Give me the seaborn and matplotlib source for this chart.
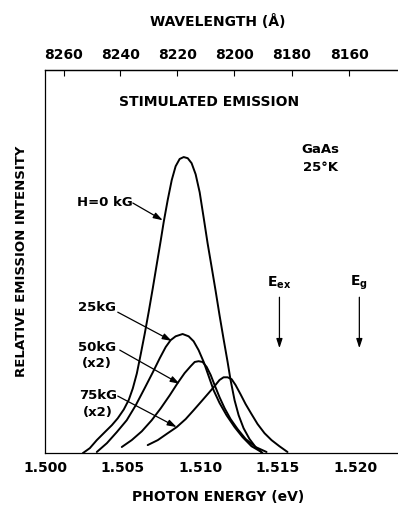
import numpy as np
import pandas as pd
import matplotlib
matplotlib.use("Agg")
import matplotlib.pyplot as plt
import seaborn as sns

# curves: photon energy (eV) vs relative intensity
e_0kg = [1.50244, 1.50289, 1.50334, 1.50386, 1.50431, 1.50469, 1.50508, 1.50540,
         1.50566, 1.50592, 1.50617, 1.50643, 1.50669, 1.50695, 1.50720, 1.50746,
         1.50765, 1.50791, 1.50817, 1.50842, 1.50868, 1.50894, 1.50920, 1.50945,
         1.50971, 1.50997, 1.51023, 1.51048, 1.51074, 1.51100, 1.51125, 1.51151,
         1.51177, 1.51196, 1.51222, 1.51248, 1.51280, 1.51318, 1.51357, 1.51402]
i_0kg = [0.0, 1.3, 3.4, 5.5, 7.3, 9.1, 11.4, 13.9,
         16.9, 20.8, 25.8, 31.2, 37.0, 43.1, 49.2, 55.5,
         60.3, 66.1, 71.3, 74.9, 76.8, 77.3, 77.0, 75.7,
         72.8, 68.1, 61.4, 54.8, 48.6, 42.3, 36.0, 29.8,
         23.8, 19.1, 13.8, 9.9, 6.5, 3.7, 1.6, 0.0]

e_25kg = [1.50334, 1.50399, 1.50463, 1.50527, 1.50585, 1.50643, 1.50695, 1.50740,
          1.50778, 1.50810, 1.50842, 1.50887, 1.50926, 1.50958, 1.50990, 1.51023,
          1.51055, 1.51087, 1.51125, 1.51170, 1.51222, 1.51273, 1.51331, 1.51395]
i_25kg = [0.3, 2.6, 5.5, 8.6, 12.5, 17.0, 21.1, 24.8,
          27.7, 29.5, 30.5, 31.1, 30.5, 29.2, 26.9, 23.8,
          20.1, 16.4, 13.1, 9.9, 6.8, 4.2, 1.8, 0.3]

e_50kg = [1.50495, 1.50559, 1.50624, 1.50688, 1.50746, 1.50804, 1.50855, 1.50900,
          1.50939, 1.50965, 1.50990, 1.51016, 1.51042, 1.51068, 1.51093, 1.51125,
          1.51158, 1.51196, 1.51241, 1.51293, 1.51357, 1.51428]
i_50kg = [1.6, 3.4, 5.7, 8.6, 11.7, 15.1, 18.3, 20.9,
          22.7, 23.8, 24.0, 23.8, 22.5, 20.4, 17.8, 14.6,
          11.7, 8.9, 6.3, 3.7, 1.6, 0.3]

e_75kg = [1.50662, 1.50727, 1.50791, 1.50849, 1.50907, 1.50958, 1.51010, 1.51055,
          1.51093, 1.51125, 1.51151, 1.51177, 1.51203, 1.51228, 1.51260, 1.51293,
          1.51331, 1.51370, 1.51415, 1.51460, 1.51511, 1.51563]
i_75kg = [2.1, 3.4, 5.2, 6.8, 8.9, 11.2, 13.6, 15.7,
          17.5, 19.1, 19.8, 19.8, 19.3, 17.8, 15.4, 12.8,
          10.2, 7.6, 5.2, 3.4, 1.8, 0.3]

energy_ticks = [1.500, 1.505, 1.510, 1.515, 1.520]
wavelength_ticks = [8260, 8240, 8220, 8200, 8180, 8160]

e_ex = 1.51511
e_g = 1.52026

sns.set_style("white")
plt.rcParams['font.family'] = ['Liberation Sans Narrow', 'DejaVu Sans']
plt.rcParams['font.weight'] = 'bold'
plt.rcParams['mathtext.default'] = 'regular'
plt.rcParams['text.color'] = 'black'
plt.rcParams['axes.labelcolor'] = 'black'
plt.rcParams['xtick.color'] = 'black'

fig = plt.figure(figsize=(3.98, 5.08), dpi=100)
ax = fig.add_axes([0.113, 0.108, 0.885, 0.754])

for e, i in [(e_0kg, i_0kg), (e_25kg, i_25kg), (e_50kg, i_50kg), (e_75kg, i_75kg)]:
    d = pd.DataFrame({'e': e, 'i': i})
    sns.lineplot(data=d, x='e', y='i', sort=False, color='black', lw=1.4, ax=ax)

ax.set_xlim(1.500, 1.5227)
ax.set_ylim(0, 100)
ax.set_xticks(energy_ticks)
ax.set_xticklabels([f"{t:.3f}" for t in energy_ticks], fontsize=10, fontweight='bold')
ax.set_yticks([])
ax.set_xlabel('')
ax.set_ylabel('RELATIVE EMISSION INTENSITY', fontsize=9.5, fontweight='bold', labelpad=12)
ax.tick_params(axis='x', direction='in', length=4, width=0.8, pad=6)
ax.spines['right'].set_visible(False)
for s in ['left', 'bottom', 'top']:
    ax.spines[s].set_linewidth(0.9)
    ax.spines[s].set_color('black')

top = ax.secondary_xaxis('top', functions=(lambda x: 12400.0 / np.maximum(x, 1e-6),
                                           lambda x: 12400.0 / np.maximum(x, 1e-6)))
top.set_xticks(wavelength_ticks)
top.set_xticklabels([str(t) for t in wavelength_ticks], fontsize=10, fontweight='bold')
top.tick_params(axis='x', direction='in', length=4, width=0.8, pad=6)
top.spines['top'].set_linewidth(0.9)

fig.text(0.548, 0.957, 'WAVELENGTH (Å)', ha='center', va='center', fontsize=10, fontweight='bold')
fig.text(0.548, 0.022, 'PHOTON ENERGY (eV)', ha='center', va='center', fontsize=10, fontweight='bold')

ax.text(0.467, 0.916, 'STIMULATED EMISSION', transform=ax.transAxes, ha='center', va='center',
        fontsize=10, fontweight='bold')
ax.text(1.51775, 79.4, 'GaAs', ha='center', va='center', fontsize=9.5, fontweight='bold')
ax.text(1.51775, 74.7, '25°K', ha='center', va='center', fontsize=9.5, fontweight='bold')

arrow = dict(arrowstyle='-|>,head_length=0.55,head_width=0.18', color='black', lw=0.9,
             shrinkA=0, shrinkB=0)

ax.text(1.50386, 65.5, 'H=0 kG', ha='center', va='center', fontsize=9.5, fontweight='bold')
ax.annotate('', xy=(1.50759, 60.8), xytext=(1.50566, 65.3), arrowprops=arrow)

ax.text(1.50334, 37.9, '25kG', ha='center', va='center', fontsize=9.5, fontweight='bold')
ax.annotate('', xy=(1.50817, 29.3), xytext=(1.50469, 36.8), arrowprops=arrow)

ax.text(1.50334, 27.7, '50kG', ha='center', va='center', fontsize=9.5, fontweight='bold')
ax.text(1.50334, 23.5, '(x2)', ha='center', va='center', fontsize=9.5, fontweight='bold')
ax.annotate('', xy=(1.50868, 18.1), xytext=(1.50482, 26.9), arrowprops=arrow)

ax.text(1.50341, 15.1, '75kG', ha='center', va='center', fontsize=9.5, fontweight='bold')
ax.text(1.50341, 10.7, '(x2)', ha='center', va='center', fontsize=9.5, fontweight='bold')
ax.annotate('', xy=(1.50849, 6.8), xytext=(1.50469, 14.9), arrowprops=arrow)

ax.text(e_ex, 44.4, r'E$_{ex}$', ha='center', va='center', fontsize=10, fontweight='bold')
ax.annotate('', xy=(e_ex, 27.4), xytext=(e_ex, 40.7), arrowprops=arrow)
ax.text(e_g, 44.4, r'E$_{g}$', ha='center', va='center', fontsize=10, fontweight='bold')
ax.annotate('', xy=(e_g, 27.4), xytext=(e_g, 40.7), arrowprops=arrow)

fig.savefig('out.png', dpi=100)
